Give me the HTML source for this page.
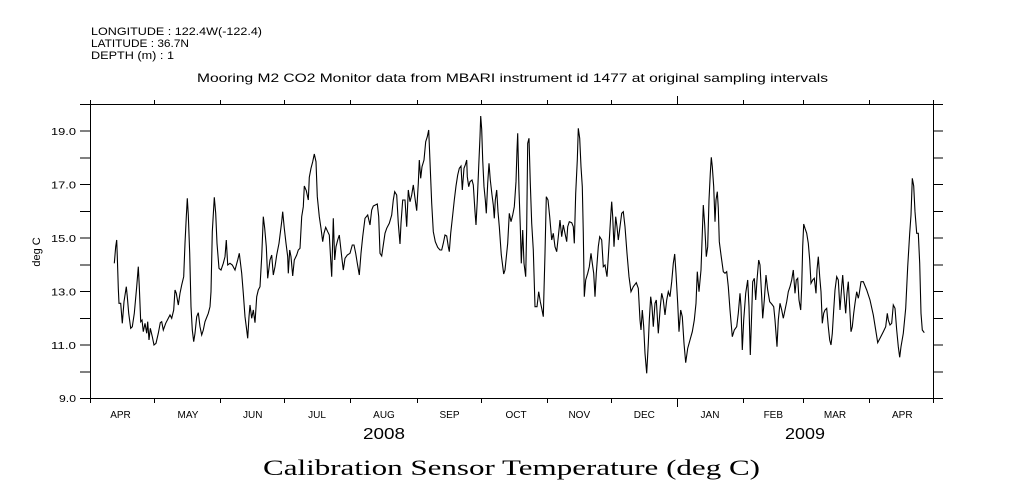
<!DOCTYPE html>
<html>
<head>
<meta charset="utf-8">
<style>
html,body{margin:0;padding:0;background:#fff;}
svg{display:block;}
text{font-family:"Liberation Sans",sans-serif;fill:#000;}
.serif{font-family:"Liberation Serif",serif;}
</style>
</head>
<body>
<svg width="1009" height="504" viewBox="0 0 1009 504" xmlns="http://www.w3.org/2000/svg">
<rect width="1009" height="504" fill="#fff"/>

<!-- header -->
<text x="91" y="35" font-size="11" textLength="171" lengthAdjust="spacingAndGlyphs">LONGITUDE : 122.4W(-122.4)</text>
<text x="91" y="47" font-size="11" textLength="98" lengthAdjust="spacingAndGlyphs">LATITUDE : 36.7N</text>
<text x="91" y="59" font-size="11" textLength="83" lengthAdjust="spacingAndGlyphs">DEPTH (m) : 1</text>
<text x="197" y="82" font-size="12" textLength="631" lengthAdjust="spacingAndGlyphs">Mooring M2 CO2 Monitor data from MBARI instrument id 1477 at original sampling intervals</text>

<!-- frame -->
<g stroke="#000" stroke-width="1" fill="none" shape-rendering="crispEdges">
<rect x="90.5" y="104.5" width="843" height="294"/>
<!-- left ticks -->
<path d="M80 104.5H90 M80 131.2H90 M80 158H90 M80 184.7H90 M80 211.4H90 M80 238.2H90 M80 264.9H90 M80 291.6H90 M80 318.4H90 M80 345.1H90 M80 371.8H90 M80 398.5H90"/>
<!-- right ticks -->
<path d="M933 104.5H943 M933 131.2H943 M933 158H943 M933 184.7H943 M933 211.4H943 M933 238.2H943 M933 264.9H943 M933 291.6H943 M933 318.4H943 M933 345.1H943 M933 371.8H943 M933 398.5H943"/>
<!-- top ticks -->
<path d="M154.5 100V104 M220.5 100V104 M284.5 100V104 M350.5 100V104 M417.5 100V104 M481.5 100V104 M547.5 100V104 M611.5 100V104 M677.5 96V104 M743.5 100V104 M803.5 100V104 M869.5 100V104 M933.5 100V104 M90.5 100V104"/>
<!-- bottom ticks -->
<path d="M90.5 398V403 M154.5 398V403 M220.5 398V403 M284.5 398V403 M350.5 398V403 M417.5 398V403 M481.5 398V403 M547.5 398V403 M611.5 398V403 M677.5 398V407 M743.5 398V403 M803.5 398V403 M869.5 398V403 M933.5 398V403"/>
</g>

<!-- y labels -->
<g font-size="10.5" text-anchor="end">
<text x="76" y="402" textLength="17" lengthAdjust="spacingAndGlyphs">9.0</text>
<text x="76" y="349" textLength="25" lengthAdjust="spacingAndGlyphs">11.0</text>
<text x="76" y="295.5" textLength="25" lengthAdjust="spacingAndGlyphs">13.0</text>
<text x="76" y="242" textLength="25" lengthAdjust="spacingAndGlyphs">15.0</text>
<text x="76" y="188.5" textLength="25" lengthAdjust="spacingAndGlyphs">17.0</text>
<text x="76" y="135" textLength="25" lengthAdjust="spacingAndGlyphs">19.0</text>
</g>
<text transform="translate(40,252) rotate(-90)" font-size="11" text-anchor="middle">deg C</text>

<!-- month labels -->
<g font-size="10" text-anchor="middle">
<text x="120.5" y="418">APR</text>
<text x="188" y="418">MAY</text>
<text x="252.7" y="418">JUN</text>
<text x="317" y="418">JUL</text>
<text x="384" y="418">AUG</text>
<text x="449.5" y="418">SEP</text>
<text x="516" y="418">OCT</text>
<text x="579.3" y="418">NOV</text>
<text x="644.3" y="418">DEC</text>
<text x="710" y="418">JAN</text>
<text x="773.3" y="418">FEB</text>
<text x="835" y="418">MAR</text>
<text x="902.3" y="418">APR</text>
</g>
<text x="384" y="439" font-size="16" text-anchor="middle" textLength="42" lengthAdjust="spacingAndGlyphs">2008</text>
<text x="805" y="439" font-size="16" text-anchor="middle" textLength="40" lengthAdjust="spacingAndGlyphs">2009</text>

<text class="serif" x="263" y="475" font-size="22" textLength="497" lengthAdjust="spacingAndGlyphs">Calibration Sensor Temperature (deg C)</text>

<!-- data -->
<polyline fill="none" stroke="#000" stroke-width="1.1" stroke-linejoin="miter" points="
114.3,263.3 115.7,246.7 116.7,240 117.3,256.7 118.3,288.3 119,303.3 120.7,303.3 122.3,323.3 124,301.7 126.3,286.7 127.3,296.7 128.7,313.3 130.7,328.3 132.3,326.7 134.3,313.3 136.7,286.7 138.3,266.7 139.3,286.7 140.7,321.7 142,320 143.3,331.7 145,323.3 146.7,333.3 147.7,321.7 149,340 150.3,328.3 152.3,336.7 154,345 156,343.3 158.3,333.3 160.3,322.7 161.7,321.7 163.3,330 165.7,323.3 168.3,318.3 170,315 171.7,318.3 173.7,310 175,290 176.3,293.3 178.3,305 180,293.3 181.7,285 183.7,276.7 185,243.3 186.3,216.7 187.3,198.3 188.3,215 189.7,253.3 191,306.7 192.3,330 193.7,341.7 195,333.3 196.7,316.7 198.3,312.7 200,326.7 201.7,335 203.3,330 205,321.7 208.3,313.3 210,306.7 211,291.7 212.3,231.7 214.3,197.3 215.7,213.3 217,243.3 219,268.3 221,270 223.3,263.3 225,256.7 226.3,240 227.7,265 230,263.3 232.3,265 235,270 237.7,260 239.3,253.3 241.7,273.3 243.3,293.3 245,316.7 246.7,330 247.7,338.3 249,316.7 250,305 251.7,318.3 253.3,310 255,322.7 256.7,296.7 258.3,290 260,286.7 261.7,256.7 263.3,216.7 264.7,228.3 266.3,246.7 267.7,278.3 270,260 271.7,255 273.3,275 275,266.7 276.7,255 279,243.3 281.7,221.7 282.7,211.7 284.3,228.3 286,243.3 287.7,256.7 288.3,273.3 289.7,250 291,256.7 292.7,276 294.3,260 296.7,255 298.3,250 300,248.3 301.7,216.7 303.3,206.7 304.3,186 306.3,190.7 308.3,200 309.3,177.3
311,168.3 312.7,161.7 314.3,154 316,161.7 317.3,196.7 319.3,216.7 321,228.3 322.7,241.7 324,233.3 325.7,227.3 327.7,231.7 329.3,235 331,265 331.7,276.7 333.3,218.3 334.7,260 336,246.7 337.7,240 339.3,235 341.7,256.7 343.3,270 345,258.3 347.3,255 350,253.3 352.3,245 354,245 355.7,253.3 357.3,263.3 359.3,275 361,253.3 362.7,236.7 365,218.3 367.7,215 370,225 371.7,210 373.3,206 377.3,204 378.7,216.7 380,253.3 381.7,256 383.3,245 385,233.3 386.7,228.3 389.3,223.3 391.7,215 393.3,200 394.7,191.7 396.7,195 398.3,223.3 400,244 401,223.3 402.7,200 405,200 406.7,226.7 408.3,190 410,201.7 411.7,195 413.3,185 415,198.3 416.7,210.7 418.3,183.3 419.3,160 420.7,178.3 422,166.7 424,160 425.7,141.7 427.3,136.7 428.7,130 430,161.7 431.7,203.3 433.3,231.7 435.3,241.7 437.7,247.3 440,250 441.7,250 443.3,243.3 445,235 446.7,236 448.3,246.7 449.3,251.7 450.7,233.3 452.7,215 454.3,200 456,186 457.7,175 459.3,168.3 461,166 462.3,190 464,168.3 465.3,165 466.7,160 467.3,176.7 468.7,186.7 470,181.7 472,180 473.3,185 475,211.7 476,225 477.3,200 478.7,166.7 480,136.7 480.7,116 481.7,129.3 482.7,160 484,186.7 485.3,200 486.3,213.3 487.7,183.3 489,163.3 490.3,180 492,195 493.3,205 494.3,218.3 495.3,200 496.7,190 498,211.7 499.3,226.7 501.3,255 503.7,274
505,270 507.7,243.3 509.3,213.3 511,221.7 512.7,215 514.3,206.7 516,181.7 517,150 517.7,133.3 519,190 520.3,226.7 521.3,263.3 522.7,230 524,263.3 525.7,276.7 526.7,226.7 527.7,143.3 529,138.3 530.3,183.3 531.7,223.3 533.3,250 535,306.7 537,306.7 538.7,291.7 540.3,301.7 541.7,308.3 543.3,316.7 545,253.3 546.3,196.7 548,200 549.7,216.7 551.7,240 553.3,233.3 555,246.7 556.7,251.7 558.3,236.7 560,220 561.7,236.7 563.3,225 565,233.3 566.7,241.7 567.7,226.7 569.3,221.7 571.7,222.7 573.3,226.7 574.3,243.3 575.7,193.3 577.3,160 578.3,128.3 579.7,138.3 581,166.7 582.3,186.7 583.3,233.3 584.3,296.7 585.7,280 587.7,273.3 589.3,266.7 591,253.3 592.3,263.3 593.7,273.3 595,296.7 596.3,273.3 598.3,246.7 599.7,236.7 601.7,240 603.3,266.7 605,265 607,276.7 608.3,256.7 609.7,233.3 611,211.7 611.7,201.7 612.7,216.7 614,246.7 615.7,216.7 617,226.7 618.3,240 620,226.7 621.7,213.3 623.3,211.7 625,226.7 627,253.3 629,276.7 631,291.7 633.3,286.7 636.3,282.7 638.3,288.3 640,320 641,330 642.3,310 643.7,326.7 645,353.3 646.7,373.3 648.3,343.3 649.3,320 650.7,296.7 652,306.7 653.3,326.7 655,303.3 656.3,300 658.3,333.3 660.3,306.7 661.7,293.3 663.3,300 665,315 666.7,300 668.3,291.7 670,296.7 671.7,281.7 673.3,263.3 674.7,254 676,273.3 677.7,303.3 679,331.7 680.7,310 682.3,316.7 684,343.3 685.7,362.7 687.7,348.3 690,340 692.3,331.7 694.3,320 696,303.3 697.3,271.7 699,291.7 701,270 703.3,205 704.7,225 706.3,256.7 707.7,246.7 709,200 710.3,173.3 711.3,157.3 712.3,166.7 713.7,186.7
715,221.7 716,200 717.3,191.7 718.3,208.3 719.3,241.7 721,255 723.3,271.7 725,273.3 726.7,271.7 728.3,286.7 730,310 732.3,336.7 734.3,330 736.7,326.7 738.3,313.3 740,293.3 741,306.7 742.3,350 743.7,320 745.7,293.3 747.7,280 749,306.7 750.3,355 751.7,313.3 752.7,281.7 754.3,278.3 755.7,300 757,280 758.7,260 760,265 761.7,296.7 762.7,318.3 764.3,300 766,275 767.7,290 769.7,301.7 771.7,304 773.7,306.7 775,320 777,346.7 778.3,320 780,303.3 781.7,310 783.3,318.3 785,310 786.7,301.7 788.3,291.7 790,286.7 791.7,280 793.3,270 795,293.3 796.3,280 797.7,278.3 799,300 800.7,310 801.7,286.7 802.7,246.7 803.7,224 805,228.3 806.7,233.3 808.3,243.3 809.7,260 811,283.3 812.7,280 814.3,278.3 816,293.3 817,270 818.3,256.7 819.7,276.7 821,291.7 822.3,323.3 823.7,313.3 825,310 826.7,308.3 828.3,326.7 829.7,340 831,345 832.3,333.3 833.7,310 835,290 836.7,276.7 838.3,280 840,310 841.7,286.7 842.7,275 844,293.3 845.7,313.3 847,293.3 848.3,281.7 850,313.3 851,331.7 852.3,326.7 853.7,313.3 855,303.3 856.7,291.7 858.3,298.3 859.3,293.3 861,281.7 863.3,281.7 866.7,290 870,300 873.3,315 875.7,330 877.7,342.7 880,338.3 883.3,331.7 885.7,326.7 887.3,313.3 888.3,320 890,325 891.7,323.3 893.3,305 895,308.3 896.7,330 898.3,346.7 899.7,357.3 901,346.7 903.3,333.3 905.7,308.3 907.7,266.7 909.7,233.3 911,215 912.3,178.3 913.7,186 915,211.7 916.7,233.3 918.3,233.3 919.7,263.3 921,313.3 922.3,330 924.3,332.7"/>
</svg>
</body>
</html>
